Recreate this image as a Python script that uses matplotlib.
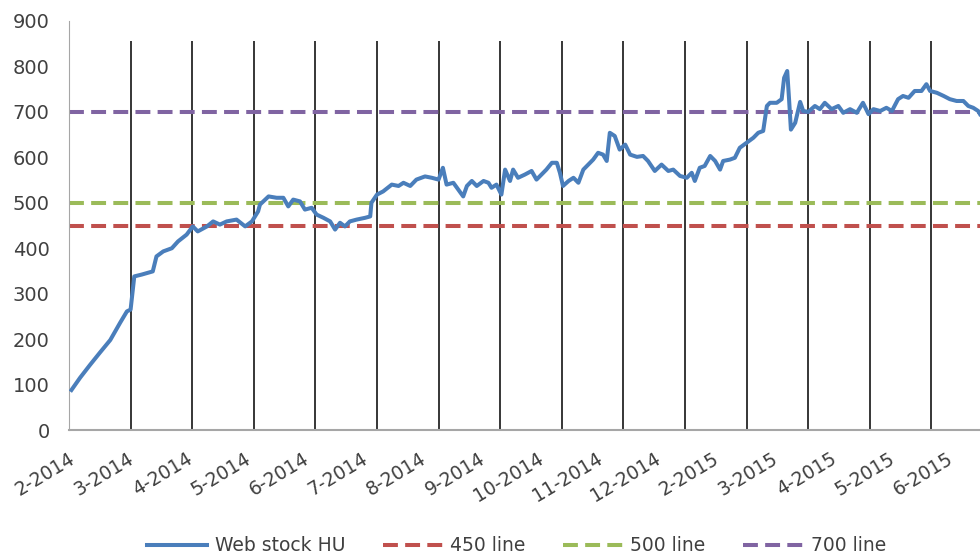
import matplotlib
matplotlib.use('Agg')
import matplotlib.pyplot as plt
import numpy as np

# months since 2-2014 (fractional) and stock level
months = [0.04, 0.18, 0.34, 0.50, 0.67, 0.83, 0.94, 1.00, 1.06, 1.18, 1.36, 1.42,
          1.53, 1.67, 1.77, 1.91, 2.01, 2.09, 2.24, 2.34, 2.45, 2.56, 2.72, 2.86,
          2.97, 3.07, 3.10, 3.24, 3.37, 3.48, 3.56, 3.64, 3.75, 3.83, 3.94, 4.02,
          4.13, 4.24, 4.32, 4.40, 4.48, 4.56, 4.67, 4.81, 4.89, 4.91, 5.00, 5.10,
          5.24, 5.35, 5.43, 5.54, 5.64, 5.78, 5.89, 6.00, 6.07, 6.13, 6.24, 6.32,
          6.40, 6.46, 6.54, 6.62, 6.73, 6.81, 6.86, 6.94, 7.02, 7.08, 7.16, 7.21,
          7.29, 7.40, 7.51, 7.59, 7.67, 7.75, 7.84, 7.92, 7.97, 8.02, 8.11, 8.19,
          8.27, 8.35, 8.43, 8.51, 8.59, 8.67, 8.73, 8.78, 8.86, 8.94, 9.03, 9.11,
          9.22, 9.32, 9.40, 9.51, 9.62, 9.73, 9.81, 9.92, 10.03, 10.11, 10.16, 10.24,
          10.32, 10.41, 10.49, 10.57, 10.62, 10.73, 10.81, 10.89, 11.00, 11.11, 11.19, 11.27,
          11.33, 11.38, 11.49, 11.57, 11.61, 11.66, 11.69, 11.72, 11.79, 11.87, 11.92, 12.00,
          12.11, 12.19, 12.27, 12.38, 12.49, 12.57, 12.68, 12.79, 12.89, 12.98, 13.06, 13.17,
          13.27, 13.36, 13.46, 13.54, 13.63, 13.73, 13.84, 13.92, 13.98, 14.09, 14.20, 14.30,
          14.41, 14.52, 14.60, 14.68, 14.76, 14.79]
stock = [88, 115, 143, 170, 198, 236, 261, 265, 338, 342, 349, 382,
         393, 400, 415, 430, 448, 437, 448, 459, 452, 459, 463, 448,
         459, 481, 496, 514, 511, 511, 492, 507, 503, 485, 489, 474,
         467, 459, 441, 456, 448, 459, 463, 467, 470, 500, 518, 525,
         540, 537, 544, 537, 551, 558, 555, 551, 577, 540, 544, 529,
         514, 537, 548, 537, 548, 544, 533, 540, 518, 573, 548, 573,
         555, 562, 570, 551, 562, 573, 588, 588, 566, 537, 548, 555,
         544, 573, 584, 595, 610, 606, 592, 654, 647, 617, 628, 606,
         601, 603, 592, 570, 584, 570, 573, 559, 555, 566, 548, 577,
         581, 603, 592, 573, 592, 595, 599, 621, 632, 643, 654, 658,
         713, 720, 720, 728, 775, 790, 728, 661, 676, 722, 702, 700,
         713, 706, 720, 706, 713, 698, 706, 698, 720, 695, 706, 702,
         709, 702, 728, 735, 731, 746, 746, 761, 746, 742, 735, 728,
         724, 724, 713, 709, 702, 695]

tick_labels = ['2-2014', '3-2014', '4-2014', '5-2014', '6-2014', '7-2014', '8-2014',
               '9-2014', '10-2014', '11-2014', '12-2014', '2-2015', '3-2015',
               '4-2015', '5-2015', '6-2015']
month_marks = [1, 2, 3, 4, 5, 6, 7, 8, 9, 10, 11, 12, 13, 14]
mark_top = 855
levels = [450, 500, 700]
level_names = ['450 line', '500 line', '700 line']
level_colors = ['#C0504D', '#9BBB59', '#8064A2']

fig = plt.figure(figsize=(9.8, 5.56), dpi=100)
ax = fig.add_axes([69 / 980, 1 - 430 / 556, 911 / 980, 409 / 556])

ax.vlines(month_marks, 0, mark_top, colors='black', linewidth=1.1, zorder=1)
ax.plot(months, stock, color='#4A7EBB', linewidth=2.9, label='Web stock HU',
        solid_joinstyle='round', zorder=3)
for lv, nm, c in zip(levels, level_names, level_colors):
    ax.axhline(lv, color=c, linewidth=2.9, dashes=(3.7, 1.8), label=nm, zorder=2)

ax.set_xlim(0, 14.79)
ax.set_ylim(0, 900)
ax.set_yticks(range(0, 901, 100))
ax.tick_params(axis='y', length=0, pad=14, labelsize=14, labelcolor='#404040')
ax.set_xticks(np.arange(len(tick_labels)) * 0.95)
ax.set_xticklabels(tick_labels, rotation=31, ha='right', va='top',
                   rotation_mode='anchor', fontsize=13.5, color='#404040')
ax.tick_params(axis='x', length=0, pad=14)
for s in ['top', 'right']:
    ax.spines[s].set_visible(False)
ax.spines['left'].set_color('#A6A6A6')
ax.spines['bottom'].set_color('#A6A6A6')
ax.spines['bottom'].set_linewidth(1.5)

fig.legend(loc='center', bbox_to_anchor=(0.527, 0.018), ncol=4, frameon=False,
           fontsize=13.5, handlelength=3.2, handletextpad=0.4, columnspacing=2.0,
           labelcolor='#404040')

fig.savefig('out.png', dpi=100)
